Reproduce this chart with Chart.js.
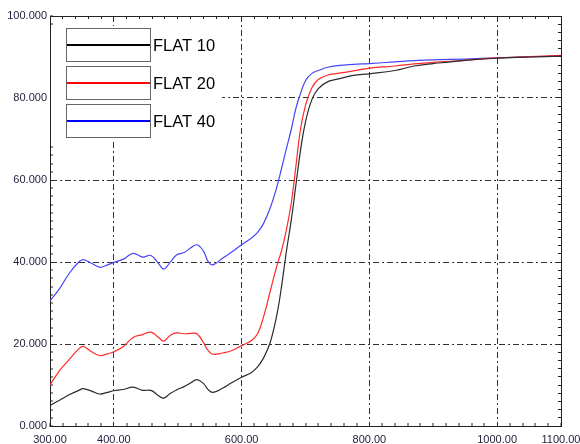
<!DOCTYPE html>
<html>
<head>
<meta charset="utf-8">
<script src="https://cdn.jsdelivr.net/npm/chart.js@4/dist/chart.umd.min.js"></script>
<style>
  html, body { margin: 0; padding: 0; background: #fff; }
  #chart { display: block; }
</style>
</head>
<body>
<canvas id="chart" width="580" height="444"></canvas>
<script>
// wavelength (nm) and the three reflectance curves
const wavelengths = [300, 315, 330, 345, 352, 365, 378, 390, 400, 415, 430, 445, 458, 470, 478, 488, 498, 510, 520, 530,
  540, 548, 555, 570, 585, 600, 615, 625, 635, 645, 655, 662, 670, 678, 685, 692, 700, 710, 720, 735,
  750, 775, 800, 840, 870, 900, 950, 1000, 1050, 1100];
const flat10 = [5.0, 6.3, 7.6, 8.7, 9.1, 8.5, 7.8, 8.2, 8.6, 8.9, 9.5, 8.7, 8.7, 7.4, 6.8, 7.9, 8.8, 9.6, 10.5, 11.3,
  10.4, 8.8, 8.2, 9.2, 10.6, 11.9, 13.0, 14.4, 16.8, 20.5, 27.0, 33.5, 42.5, 50.5, 58.8, 67.0, 74.2, 79.6, 82.3, 84.0,
  84.6, 85.5, 85.9, 86.7, 87.8, 88.4, 89.2, 89.7, 90.0, 90.2];
const flat20 = [10.0, 13.5, 16.2, 18.8, 19.4, 18.1, 17.2, 17.6, 18.1, 19.4, 21.6, 22.3, 22.9, 21.6, 20.7, 22.1, 22.7, 22.5, 22.6, 22.5,
  20.4, 18.3, 17.5, 17.8, 18.4, 19.6, 20.8, 22.5, 27.0, 33.0, 39.0, 42.5, 47.8, 54.7, 63.4, 72.2, 78.2, 82.5, 84.5, 85.6,
  86.0, 86.6, 87.3, 87.8, 88.3, 88.7, 89.2, 89.8, 90.1, 90.4];
const flat40 = [30.5, 33.5, 37.2, 40.0, 40.6, 39.7, 38.7, 39.3, 39.9, 40.7, 42.1, 41.2, 41.6, 39.6, 38.3, 39.9, 41.7, 42.3, 43.4, 44.2,
  42.7, 40.0, 39.3, 40.9, 42.5, 44.2, 45.8, 47.2, 49.6, 53.3, 58.2, 62.5, 67.6, 72.5, 77.5, 81.0, 84.2, 86.0, 86.7, 87.5,
  87.9, 88.2, 88.4, 88.8, 89.1, 89.3, 89.5, 89.8, 90.0, 90.3];

const seriesNames = ["FLAT 10", "FLAT 20", "FLAT 40"];
const xLabelValues = [300, 400, 600, 800, 1000, 1100];
const xGridValues = [400, 600, 800, 1000];
const yLabelValues = [0, 20, 40, 60, 80, 100];
const yGridValues = [20, 40, 60, 80];

const FONT = "'Liberation Sans', Arial, sans-serif";
const AXIS_TEXT = "#23233f";
const DASH = [6, 3, 2, 3];

const toPoints = (vals) => wavelengths.map((w, i) => ({ x: w, y: vals[i] }));

// framed legend drawn inside the plot, top-left, hiding the grid under it
const boxLegend = {
  id: "boxLegend",
  beforeDatasetsDraw(chart) {
    const { ctx, chartArea } = chart;
    const left = chartArea.left;
    const top = chartArea.top;
    ctx.save();
    ctx.fillStyle = "#fff";
    ctx.fillRect(left + 1, top + 10, 171, 114);
    const legendColors = ["#000000", "#ff0000", "#0000ff"];
    chart.data.datasets.forEach((ds, i) => {
      const bx = left + 16, by = top + 12 + i * 38, bw = 84, bh = 33;
      ctx.strokeStyle = "#666";
      ctx.lineWidth = 1;
      ctx.strokeRect(bx + 0.5, by + 0.5, bw, bh);
      ctx.strokeStyle = legendColors[i];
      ctx.lineWidth = 2;
      ctx.beginPath();
      ctx.moveTo(bx + 1, by + 17);
      ctx.lineTo(bx + bw, by + 17);
      ctx.stroke();
      ctx.fillStyle = "#000";
      ctx.font = "16.5px " + FONT;
      ctx.textBaseline = "middle";
      ctx.textAlign = "left";
      ctx.fillText(ds.label, bx + bw + 3, by + 18);
    });
    ctx.restore();
  },
};

const lineStyle = (color) => ({
  borderColor: color,
  backgroundColor: color,
  borderWidth: 1.2,
  pointRadius: 0,
  tension: 0.4,
  fill: false,
});

new Chart(document.getElementById("chart"), {
  type: "line",
  data: {
    datasets: [
      { label: seriesNames[0], data: toPoints(flat10), ...lineStyle("#2b2b2b") },
      { label: seriesNames[1], data: toPoints(flat20), ...lineStyle("#ff2a2a") },
      { label: seriesNames[2], data: toPoints(flat40), ...lineStyle("#4646f5") },
    ],
  },
  options: {
    responsive: false,
    animation: false,
    devicePixelRatio: 1,
    layout: { padding: 0 },
    plugins: { legend: { display: false }, tooltip: { enabled: false } },
    scales: {
      x: {
        type: "linear",
        position: "bottom",
        min: 300,
        max: 1100,
        afterFit: (s) => { s.height = 18; s.paddingLeft = 0; s.paddingRight = 0; },
        ticks: {
          stepSize: 20,
          autoSkip: false,
          maxRotation: 0,
          padding: 10,
          color: AXIS_TEXT,
          font: { family: FONT, size: 11 },
          callback: (v) => (xLabelValues.includes(v) ? v.toFixed(2) : ""),
        },
        grid: {
          color: "#333",
          lineWidth: (c) => (c.tick && xGridValues.includes(c.tick.value) ? 1 : 0),
          tickLength: -3,
          tickColor: "#222",
          tickWidth: 1,
        },
        border: { display: true, color: "#222", width: 1, dash: DASH },
      },
      x2: {
        type: "linear",
        position: "top",
        min: 300,
        max: 1100,
        afterFit: (s) => { s.height = 16; s.paddingLeft = 0; s.paddingRight = 0; },
        ticks: { stepSize: 20, display: false },
        grid: { drawOnChartArea: false, tickLength: -3, tickColor: "#222", tickWidth: 1 },
        border: { display: true, color: "#222", width: 1 },
      },
      y: {
        type: "linear",
        position: "left",
        min: 0,
        max: 100,
        afterFit: (s) => { s.width = 50; },
        ticks: {
          stepSize: 2,
          autoSkip: false,
          padding: 6,
          color: AXIS_TEXT,
          font: { family: FONT, size: 11 },
          callback: (v) => (yLabelValues.includes(v) ? v.toFixed(3) : ""),
        },
        grid: {
          color: "#333",
          lineWidth: (c) => (c.tick && yGridValues.includes(c.tick.value) ? 1 : 0),
          tickLength: -3,
          tickColor: "#222",
          tickWidth: 1,
        },
        border: { display: true, color: "#222", width: 1, dash: DASH },
      },
      y2: {
        type: "linear",
        position: "right",
        min: 0,
        max: 100,
        afterFit: (s) => { s.width = 19; },
        ticks: { stepSize: 2, display: false },
        grid: { drawOnChartArea: false, tickLength: -3, tickColor: "#222", tickWidth: 1 },
        border: { display: true, color: "#222", width: 1 },
      },
    },
  },
  plugins: [boxLegend],
});
</script>
</body>
</html>
